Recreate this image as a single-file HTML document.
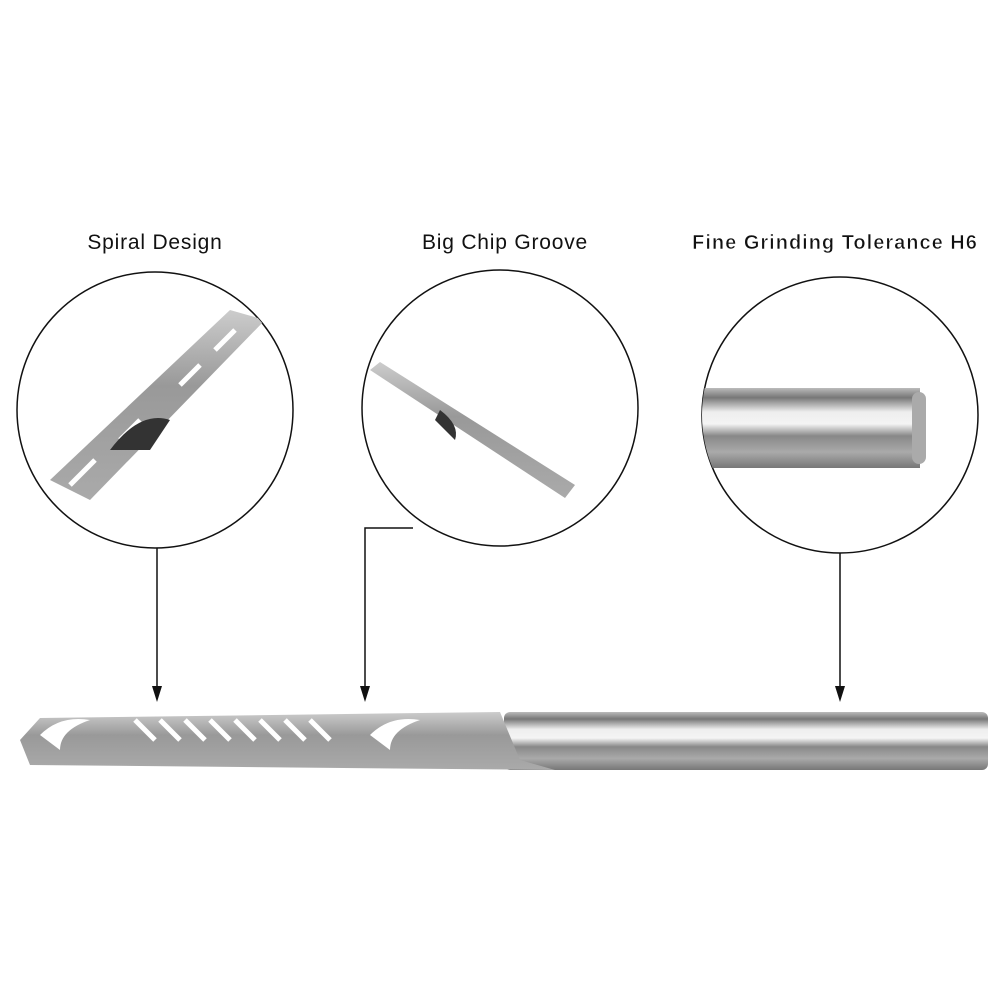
<!DOCTYPE html>
<html><head><style>
body{margin:0;background:#fff;width:1000px;height:1000px;overflow:hidden;font-family:"Liberation Sans",sans-serif}
</style></head><body>
<svg width="1000" height="1000" xmlns="http://www.w3.org/2000/svg">
<defs>
<linearGradient id="sh" x1="0" y1="0" x2="0" y2="1">
<stop offset="0" stop-color="#bbb"/><stop offset="0.12" stop-color="#777"/><stop offset="0.3" stop-color="#eee"/><stop offset="0.45" stop-color="#f4f4f4"/><stop offset="0.6" stop-color="#888"/><stop offset="0.8" stop-color="#aaa"/><stop offset="1" stop-color="#777"/>
</linearGradient>
<linearGradient id="fl" x1="0" y1="0" x2="0" y2="1">
<stop offset="0" stop-color="#ccc"/><stop offset="0.4" stop-color="#999"/><stop offset="1" stop-color="#aaa"/>
</linearGradient>
<clipPath id="c1"><circle cx="155" cy="410" r="138"/></clipPath>
<clipPath id="c2"><circle cx="500" cy="408" r="138"/></clipPath>
<clipPath id="c3"><circle cx="840" cy="415" r="138"/></clipPath>
</defs>
<g font-size="21" fill="#111">
<text x="155" y="249" text-anchor="middle" letter-spacing="0.8">Spiral Design</text>
<text x="505" y="249" text-anchor="middle" letter-spacing="0.8">Big Chip Groove</text>
<text x="835" y="249" text-anchor="middle" letter-spacing="1" font-size="20" font-weight="bold" stroke="#fff" stroke-width="0.6">Fine Grinding Tolerance H6</text>
</g>
<g fill="none" stroke="#111" stroke-width="1.5">
<circle cx="155" cy="410" r="138"/>
<circle cx="500" cy="408" r="138"/>
<circle cx="840" cy="415" r="138"/>
<line x1="157" y1="548" x2="157" y2="690"/>
<polyline points="413,528 365,528 365,690"/>
<line x1="840" y1="553" x2="840" y2="690"/>
</g>
<g fill="#111">
<polygon points="152,686 162,686 157,702"/>
<polygon points="360,686 370,686 365,702"/>
<polygon points="835,686 845,686 840,702"/>
</g>
<g clip-path="url(#c1)">
<polygon points="50,480 230,310 265,320 90,500" fill="url(#fl)"/>
<g stroke="#fff" stroke-width="5">
<line x1="70" y1="485" x2="95" y2="460"/><line x1="120" y1="440" x2="140" y2="420"/><line x1="180" y1="385" x2="200" y2="365"/><line x1="215" y1="350" x2="235" y2="330"/>
</g>
<path d="M110,450 q30,-40 60,-30 l-20,30 z" fill="#333"/>
</g>
<g clip-path="url(#c2)">
<polygon points="370,370 380,362 575,485 565,498" fill="url(#fl)"/>
<path d="M440,410 q20,15 15,30 l-20,-20 z" fill="#333"/>
</g>
<g clip-path="url(#c3)">
<rect x="690" y="388" width="230" height="80" fill="url(#sh)"/>
<rect x="912" y="392" width="14" height="72" rx="7" fill="#aaa"/>
</g>
<rect x="504" y="712" width="484" height="58" rx="6" fill="url(#sh)"/>
<path d="M20,740 L40,718 L500,712 L520,760 L555,770 L555,770 L30,765 Z" fill="url(#fl)"/>
<g stroke="#fff" stroke-width="5">
<line x1="135" y1="720" x2="155" y2="740"/><line x1="160" y1="720" x2="180" y2="740"/><line x1="185" y1="720" x2="205" y2="740"/><line x1="210" y1="720" x2="230" y2="740"/><line x1="235" y1="720" x2="255" y2="740"/><line x1="260" y1="720" x2="280" y2="740"/><line x1="285" y1="720" x2="305" y2="740"/><line x1="310" y1="720" x2="330" y2="740"/>
</g>
<path d="M40,735 q20,-20 50,-15 q-30,10 -30,30 z" fill="#fff"/>
<path d="M370,735 q20,-20 50,-15 q-30,10 -30,30 z" fill="#fff"/>
</svg>
</body></html>
